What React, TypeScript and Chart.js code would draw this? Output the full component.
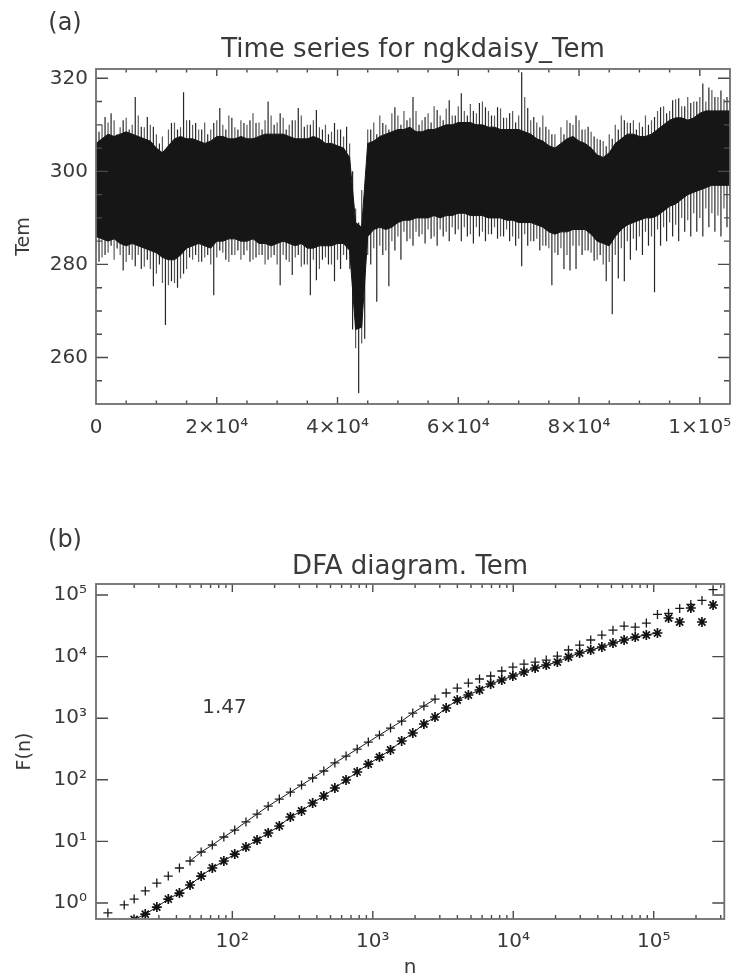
import React, { useEffect, useRef } from "react";
import { Chart, registerables } from "chart.js";

Chart.register(...registerables);

const FONT = '"DejaVu Sans", "Liberation Sans", sans-serif';
const INK = "#3a3a3a";
const FRAME = "#6e6e6e";
const TICK_INK = "#4a4a4a";
const SERIES_INK = "#161616";

// ---------------- Panel (a): time series ----------------
const TS_TITLE = "Time series for ngkdaisy_Tem";
const TS_Y_TITLE = "Tem";
const TS_BIN = 1000; // one reading column = 1000 samples
// solid black body of the series (upper / lower edge), one value per 1000 samples
const TS_CORE_TOP = [
  306, 307, 308, 307.5, 308, 308.5, 308, 307.5, 307, 306.5,
  305, 304, 305.5, 307, 307.5, 307, 307, 306.5, 306, 306.5,
  307.5, 307.5, 307, 307, 307.5, 307, 307, 307.5, 308, 308,
  308, 308, 307.5, 307, 307, 307, 307.5, 307, 306, 306,
  305.5, 305, 303, 289, 288, 306, 306.5, 307.5, 308, 308.5,
  309, 309, 309.5, 308.5, 308.5, 309, 309, 309.5, 310, 310,
  310.5, 310.5, 310.5, 310, 310, 309.5, 309.5, 309, 309, 309,
  309, 308.5, 308, 307, 306.5, 305.5, 305, 306, 307, 307.5,
  306.5, 306, 305, 303.5, 303, 304, 306, 307, 308, 308,
  307.5, 307.5, 308, 309, 310, 311, 311.5, 311.5, 311, 311.5,
  312.5, 313, 313, 313, 313, 313,
];
const TS_CORE_BOTTOM = [
  286, 285.5, 285, 285.5, 284.5, 284, 284.5, 284, 283.5, 283,
  282.5, 281.5, 281, 281, 282, 283.5, 284, 284.5, 284, 283.5,
  285, 285, 285.5, 285.5, 285, 285, 285.5, 284.5, 284.5, 284,
  284.5, 285, 284.5, 284, 284.5, 283.5, 283.5, 284, 284, 284,
  284.5, 284.5, 283, 266, 266.5, 286, 287.5, 288, 287.5, 288,
  289, 289.5, 289.5, 290, 290, 290, 290.5, 290, 290.5, 290.5,
  291, 291, 290.5, 290.5, 290.5, 290, 290, 290, 289.5, 289.5,
  289, 289, 289, 288.5, 288, 287, 286.5, 287, 287, 287.5,
  287.5, 287.5, 286.5, 285, 284.5, 284, 286, 287.5, 288.5, 289,
  289.5, 290, 290, 290.5, 291.5, 292.5, 293, 294, 295, 295.5,
  296, 296.5, 297, 297, 297, 297,
];
// largest excursions (spikes) in each 1000-sample column, at its middle
const TS_SPIKE_TOP = [
  308.5, 311.7, 312.5, 308, 311, 309, 316, 309.6, 311.7, 309.6,
  306, 304.7, 310.4, 309, 317, 311, 310.4, 309, 308, 310.4,
  313.6, 309, 311.5, 309, 310.4, 311, 310.4, 309, 315, 310,
  312.5, 309, 311, 313.6, 309.6, 310, 313.2, 309, 308, 310.4,
  309, 309.6, 300, 289, 295, 309, 308, 310.4, 309, 313.8,
  310, 311, 316, 310, 311.7, 310.5, 313.2, 311, 315.3, 312,
  316.8, 312, 313, 314.7, 313.8, 312, 313.8, 311.5, 312.5, 310.5,
  321.3, 313.6, 311.7, 309.5, 309.6, 308, 305.4, 308, 310.4, 312,
  309, 309.6, 307.5, 306.8, 305.4, 307, 309, 311, 310.4, 309,
  309.6, 310, 311.7, 313.8, 312.5, 315.3, 315.7, 314, 314.7, 315,
  318.9, 318, 316, 317.4, 316,
];
const TS_SPIKE_BOTTOM = [
  280.6, 282, 284, 283.4, 278.7, 282, 279.6, 279, 281, 275.3,
  280, 267, 276.4, 275, 278, 281.5, 282, 280.6, 282, 273.4,
  283, 281, 282, 283, 282, 280.6, 281.5, 282, 281, 282,
  275.5, 281, 277.7, 282, 280, 273.4, 276.6, 281, 280, 276.4,
  279, 281, 266, 252.3, 264, 280, 272, 282, 275.3, 283,
  281, 285, 284, 286, 284.5, 285.5, 284, 286, 285, 286.5,
  285, 286, 284.5, 286, 285, 286.5, 285.5, 286, 285, 284,
  279.6, 284, 285, 283, 284, 275.5, 282, 279, 278.7, 279,
  282, 283, 280.8, 282, 276.4, 269.3, 277, 276.4, 281, 283,
  282, 284, 274, 284, 285, 286, 285, 287, 286, 287,
  286, 288, 287, 286, 288,
];
// smaller excursions forming the ragged edge, at each column boundary
const TS_EDGE_TOP = [
  309, 310, 310.5, 311, 309.5, 311.5, 310, 312, 309.5, 310,
  308, 307.5, 309, 310.5, 309.5, 311, 310, 309, 310.5, 309,
  311, 310, 312, 309.5, 311, 310, 312.5, 310.5, 311, 312,
  310.5, 311.5, 310, 311, 312, 310, 311, 309.5, 310, 308.5,
  309, 307.5, 306, 292, 296, 309, 310.5, 312, 310, 312.5,
  312, 313, 311.5, 313, 311, 312.5, 314, 312, 313.5, 312,
  314, 313, 314.5, 312.5, 315, 313, 312, 313.5, 311.5, 313,
  312, 316, 311, 310.5, 312, 309, 308, 309.5, 311, 310,
  311, 309, 308.5, 307, 306.5, 308, 310, 312, 310.5, 311,
  310.5, 312, 311, 313, 314, 313, 315.5, 314, 316, 315,
  316, 315, 317.5, 316, 315.5, 316,
];
const TS_EDGE_BOTTOM = [
  283, 281.5, 282.5, 281, 282, 280.5, 281, 282, 279.5, 279,
  278, 276, 275.5, 276, 277, 279, 281, 280.5, 281.5, 280,
  281.5, 282.5, 280.5, 282, 281, 283, 281, 282, 280, 281.5,
  280, 282, 280.5, 281.5, 279.5, 280, 281, 279, 281.5, 280,
  281, 282, 279, 262, 263, 282, 283.5, 284, 283, 285,
  286, 287, 285.5, 287, 286.5, 287.5, 286, 287.5, 287, 288,
  287.5, 288, 286.5, 288, 287, 286.5, 288, 286, 287.5, 286,
  285.5, 286.5, 285, 285.5, 284, 283.5, 282.5, 283.5, 282, 284,
  284, 283, 282.5, 281, 280, 280.5, 282, 283.5, 285, 285.5,
  286, 287, 286, 287.5, 288, 289, 288.5, 290, 289.5, 291,
  290, 292, 291, 290.5, 292, 291,
];
const TS_X_MIN = 0;
const TS_X_MAX = 105000;
const TS_Y_MIN = 250;
const TS_Y_MAX = 322;
const TS_X_TICKS = [0, 20000, 40000, 60000, 80000, 100000];
const TS_X_LABELS = ["0", "2×10⁴", "4×10⁴", "6×10⁴", "8×10⁴", "1×10⁵"];
const TS_X_MINOR_STEP = 5000;
const TS_Y_TICKS = [260, 280, 300, 320];
const TS_Y_LABELS = ["260", "280", "300", "320"];
const TS_Y_MINOR_STEP = 5;

// ---------------- Panel (b): DFA diagram ----------------
const DFA_TITLE = "DFA diagram. Tem";
const DFA_X_TITLE = "n";
const DFA_Y_TITLE = "F(n)";
const DFA_N = [
  13, 17, 20, 24, 29, 35, 42, 50, 60, 72,
  87, 104, 125, 150, 180, 216, 259, 311, 373, 448,
  537, 645, 774, 929, 1115, 1337, 1605, 1926, 2311, 2773,
  3328, 3993, 4792, 5750, 6900, 8280, 9936, 11923, 14308, 17170,
  20604, 24724, 29669, 35603, 42724, 51268, 61522, 73826, 88591, 106310,
  127571, 153086, 183703, 220444, 264532,
];
const DFA_PLUS = [
  0.69, 0.93, 1.16, 1.57, 2.11, 2.74, 3.7, 4.81, 6.73, 8.74,
  11.8, 15.3, 20.7, 27.8, 37.3, 48.6, 63.1, 82.1, 107, 139,
  188, 243, 316, 410, 533, 692, 898, 1213, 1576, 2046,
  2566, 3090, 3722, 4330, 4842, 5840, 6770, 7580, 8170, 8800,
  10200, 12800, 15400, 18600, 22400, 26900, 31300, 30100, 35000, 48400,
  50400, 60700, 70500, 81700, 122000,
];
const DFA_STAR = [
  null, null, 0.54, 0.66, 0.86, 1.16, 1.45, 1.96, 2.74, 3.7,
  4.81, 6.24, 8.11, 10.5, 13.7, 17.8, 24.9, 31.2, 42.0, 54.6,
  73.6, 99.3, 134, 180, 234, 305, 427, 575, 805, 1046,
  1464, 1974, 2380, 2871, 3591, 4170, 4842, 5623, 6530, 7305,
  8172, 9856, 11440, 12800, 14320, 16630, 18600, 20800, 22430, 24170,
  42360, 36480, 61520, 36480, 68870,
];
const PLUS_LINE_FROM = 7;
const PLUS_LINE_TO = 29;
const STAR_LINE_TO = 49;
const DFA_X_MIN = 10.7;
const DFA_X_MAX = 318000;
const DFA_Y_MIN = 0.55;
const DFA_Y_MAX = 151000;
const DFA_X_TICKS = [100, 1000, 10000, 100000];
const DFA_X_LABELS = ["10²", "10³", "10⁴", "10⁵"];
const DFA_Y_TICKS = [1, 10, 100, 1000, 10000, 100000];
const DFA_Y_LABELS = ["10⁰", "10¹", "10²", "10³", "10⁴", "10⁵"];
const DFA_SLOPE_LABEL = "1.47";
const DFA_SLOPE_N = 88;
const DFA_SLOPE_F = 1460;

// ---------------- helpers ----------------
type TickSpec = { major: number[]; minor: number[]; majorLen: number; minorLen: number };
type TextItem = {
  text: string;
  x: number;
  y: number;
  size: number;
  align?: CanvasTextAlign;
  baseline?: CanvasTextBaseline;
  rotate?: number;
};

const rangeStep = (from: number, to: number, step: number) => {
  const out: number[] = [];
  for (let v = from; v <= to + 1e-9; v += step) out.push(v);
  return out;
};

const logMinors = (from: number, to: number) => {
  const out: number[] = [];
  for (let d = 1; d <= 1e6; d *= 10) {
    for (let m = 2; m <= 9; m++) {
      const v = m * d;
      if (v >= from && v <= to) out.push(v);
    }
  }
  return out;
};

const framePlugin = (id: string, xt: TickSpec, yt: TickSpec) => ({
  id,
  afterDatasetsDraw(chart: any) {
    const { ctx, chartArea: a } = chart;
    const sx = chart.scales.x;
    const sy = chart.scales.y;
    ctx.save();
    ctx.strokeStyle = TICK_INK;
    ctx.lineWidth = 1.4;
    ctx.beginPath();
    const xMark = (v: number, len: number) => {
      const p = sx.getPixelForValue(v);
      if (p <= a.left + 1.5 || p >= a.right - 1.5) return;
      ctx.moveTo(p, a.bottom);
      ctx.lineTo(p, a.bottom - len);
      ctx.moveTo(p, a.top);
      ctx.lineTo(p, a.top + len);
    };
    const yMark = (v: number, len: number) => {
      const p = sy.getPixelForValue(v);
      if (p <= a.top + 1.5 || p >= a.bottom - 1.5) return;
      ctx.moveTo(a.left, p);
      ctx.lineTo(a.left + len, p);
      ctx.moveTo(a.right, p);
      ctx.lineTo(a.right - len, p);
    };
    xt.major.forEach((v) => xMark(v, xt.majorLen));
    xt.minor.forEach((v) => xMark(v, xt.minorLen));
    yt.major.forEach((v) => yMark(v, yt.majorLen));
    yt.minor.forEach((v) => yMark(v, yt.minorLen));
    ctx.stroke();
    ctx.strokeStyle = FRAME;
    ctx.lineWidth = 1.8;
    ctx.strokeRect(a.left, a.top, a.right - a.left, a.bottom - a.top);
    ctx.restore();
  },
});

const textPlugin = (id: string, items: (chart: any) => TextItem[]) => ({
  id,
  afterDraw(chart: any) {
    const ctx = chart.ctx as CanvasRenderingContext2D;
    for (const t of items(chart)) {
      ctx.save();
      ctx.translate(t.x, t.y);
      if (t.rotate) ctx.rotate(t.rotate);
      ctx.font = `${t.size}px ${FONT}`;
      ctx.fillStyle = INK;
      ctx.textAlign = t.align ?? "center";
      ctx.textBaseline = t.baseline ?? "alphabetic";
      ctx.fillText(t.text, 0, 0);
      ctx.restore();
    }
  },
});

const tickFont = { family: FONT, size: 20 };

const fixBox = (w: number | null, h: number | null) => (s: any) => {
  if (w !== null) s.width = w;
  if (h !== null) s.height = h;
  s.paddingLeft = 0;
  s.paddingRight = 0;
  s.paddingTop = 0;
  s.paddingBottom = 0;
};

const verticalStrokes = (xs: number[], tops: number[], bottoms: number[]) => {
  const pts: { x: number; y: number | null }[] = [];
  xs.forEach((x, i) => {
    pts.push({ x, y: tops[i] }, { x, y: bottoms[i] }, { x, y: null });
  });
  return pts;
};

function buildTimeSeries(canvas: HTMLCanvasElement) {
  const spikeX = TS_SPIKE_TOP.map((_, i) => i * TS_BIN + TS_BIN / 2);
  const edgeX = TS_EDGE_TOP.map((_, i) => i * TS_BIN);
  const spikes = verticalStrokes(spikeX, TS_SPIKE_TOP, TS_SPIKE_BOTTOM);
  const edges = verticalStrokes(edgeX, TS_EDGE_TOP, TS_EDGE_BOTTOM);
  const coreTop = TS_CORE_TOP.map((y, i) => ({ x: i * TS_BIN, y }));
  const coreBottom = TS_CORE_BOTTOM.map((y, i) => ({ x: i * TS_BIN, y }));

  const xTicks: TickSpec = {
    major: TS_X_TICKS,
    minor: rangeStep(TS_X_MIN, TS_X_MAX, TS_X_MINOR_STEP).filter((v) => !TS_X_TICKS.includes(v)),
    majorLen: 7,
    minorLen: 3.5,
  };
  const yTicks: TickSpec = {
    major: TS_Y_TICKS,
    minor: rangeStep(TS_Y_MIN, TS_Y_MAX, TS_Y_MINOR_STEP).filter((v) => !TS_Y_TICKS.includes(v)),
    majorLen: 12,
    minorLen: 6,
  };

  return new Chart(canvas, {
    type: "line",
    data: {
      datasets: [
        {
          label: "Tem body (upper)",
          data: coreTop,
          borderColor: SERIES_INK,
          backgroundColor: SERIES_INK,
          borderWidth: 1,
          pointRadius: 0,
          fill: "+1",
          order: 1,
        },
        {
          label: "Tem body (lower)",
          data: coreBottom,
          borderColor: SERIES_INK,
          borderWidth: 1,
          pointRadius: 0,
          fill: false,
          order: 1,
        },
        {
          label: "Tem spikes",
          data: spikes,
          borderColor: "#262626",
          borderWidth: 1.2,
          pointRadius: 0,
          spanGaps: false,
          fill: false,
          order: 2,
        },
        {
          label: "Tem ragged edge",
          data: edges,
          borderColor: "#5a5a5a",
          borderWidth: 1.2,
          pointRadius: 0,
          spanGaps: false,
          fill: false,
          order: 3,
        },
      ],
    },
    options: {
      responsive: false,
      animation: false,
      events: [],
      layout: { padding: { top: 69, right: 1, bottom: 0, left: 0 } },
      plugins: { legend: { display: false }, tooltip: { enabled: false }, title: { display: false } },
      scales: {
        x: {
          type: "linear",
          min: TS_X_MIN,
          max: TS_X_MAX,
          afterBuildTicks: (s: any) => {
            s.ticks = TS_X_TICKS.map((v) => ({ value: v }));
          },
          afterFit: fixBox(null, 56),
          grid: { display: false, drawTicks: false },
          border: { display: false },
          ticks: {
            autoSkip: false,
            maxRotation: 0,
            minRotation: 0,
            padding: 12,
            color: INK,
            font: tickFont,
            callback: (_v: any, i: number) => TS_X_LABELS[i],
          },
        },
        y: {
          type: "linear",
          min: TS_Y_MIN,
          max: TS_Y_MAX,
          afterBuildTicks: (s: any) => {
            s.ticks = TS_Y_TICKS.map((v) => ({ value: v }));
          },
          afterFit: fixBox(96, null),
          grid: { display: false, drawTicks: false },
          border: { display: false },
          ticks: {
            autoSkip: false,
            padding: 8,
            color: INK,
            font: tickFont,
            callback: (_v: any, i: number) => TS_Y_LABELS[i],
          },
        },
      },
    },
    plugins: [
      framePlugin("frameA", xTicks, yTicks),
      textPlugin("textA", (chart) => {
        const a = chart.chartArea;
        return [
          { text: "(a)", x: 65, y: 30, size: 24 },
          { text: TS_TITLE, x: (a.left + a.right) / 2, y: 57, size: 26 },
          {
            text: TS_Y_TITLE,
            x: 24,
            y: (a.top + a.bottom) / 2,
            size: 19,
            baseline: "middle",
            rotate: -Math.PI / 2,
          },
        ];
      }),
    ],
  } as any);
}

function buildDfa(canvas: HTMLCanvasElement) {
  const plus = DFA_N.map((n, i) => ({ x: n, y: DFA_PLUS[i] }));
  const star = DFA_N.map((n, i) => ({ x: n, y: DFA_STAR[i] }));
  const xTicks: TickSpec = {
    major: DFA_X_TICKS,
    minor: logMinors(DFA_X_MIN, DFA_X_MAX),
    majorLen: 8,
    minorLen: 4,
  };
  const yTicks: TickSpec = { major: DFA_Y_TICKS, minor: [], majorLen: 12, minorLen: 0 };
  const hidden = "rgba(0,0,0,0)";

  return new Chart(canvas, {
    type: "line",
    data: {
      datasets: [
        {
          label: "F(n) +",
          data: plus,
          showLine: true,
          borderColor: "#1a1a1a",
          borderWidth: 1,
          pointStyle: "cross",
          pointRadius: 4.5,
          pointBorderWidth: 1.3,
          pointBorderColor: "#1a1a1a",
          segment: {
            borderColor: (c: any) =>
              c.p0DataIndex >= PLUS_LINE_FROM && c.p1DataIndex <= PLUS_LINE_TO ? "#1a1a1a" : hidden,
          },
          fill: false,
        },
        {
          label: "F(n) *",
          data: star,
          showLine: true,
          borderColor: "#111",
          borderWidth: 1,
          pointStyle: "star",
          pointRadius: 5,
          pointBorderWidth: 1.7,
          pointBorderColor: "#111",
          segment: {
            borderColor: (c: any) => (c.p1DataIndex <= STAR_LINE_TO ? "#111" : hidden),
          },
          spanGaps: false,
          fill: false,
        },
      ],
    },
    options: {
      responsive: false,
      animation: false,
      events: [],
      layout: { padding: { top: 124, right: 3, bottom: 0, left: 0 } },
      plugins: { legend: { display: false }, tooltip: { enabled: false }, title: { display: false } },
      scales: {
        x: {
          type: "logarithmic",
          min: DFA_X_MIN,
          max: DFA_X_MAX,
          afterBuildTicks: (s: any) => {
            s.ticks = DFA_X_TICKS.map((v) => ({ value: v }));
          },
          afterFit: fixBox(null, 61),
          grid: { display: false, drawTicks: false },
          border: { display: false },
          ticks: {
            autoSkip: false,
            maxRotation: 0,
            minRotation: 0,
            padding: 11,
            color: INK,
            font: tickFont,
            callback: (_v: any, i: number) => DFA_X_LABELS[i],
          },
        },
        y: {
          type: "logarithmic",
          min: DFA_Y_MIN,
          max: DFA_Y_MAX,
          afterBuildTicks: (s: any) => {
            s.ticks = DFA_Y_TICKS.map((v) => ({ value: v }));
          },
          afterFit: fixBox(96, null),
          grid: { display: false, drawTicks: false },
          border: { display: false },
          ticks: {
            autoSkip: false,
            padding: 9,
            color: INK,
            font: tickFont,
            callback: (_v: any, i: number) => DFA_Y_LABELS[i],
          },
        },
      },
    },
    plugins: [
      framePlugin("frameB", xTicks, yTicks),
      textPlugin("textB", (chart) => {
        const a = chart.chartArea;
        const sx = chart.scales.x;
        const sy = chart.scales.y;
        return [
          { text: "(b)", x: 65, y: 87, size: 24 },
          { text: DFA_TITLE, x: (a.left + a.right) / 2, y: 114, size: 26 },
          {
            text: DFA_Y_TITLE,
            x: 25,
            y: (a.top + a.bottom) / 2,
            size: 19,
            baseline: "middle",
            rotate: -Math.PI / 2,
          },
          { text: DFA_X_TITLE, x: (a.left + a.right) / 2, y: 513, size: 20 },
          {
            text: DFA_SLOPE_LABEL,
            x: sx.getPixelForValue(DFA_SLOPE_N),
            y: sy.getPixelForValue(DFA_SLOPE_F),
            size: 20,
            baseline: "middle",
          },
        ];
      }),
    ],
  } as any);
}

export default function App() {
  const refA = useRef<HTMLCanvasElement>(null);
  const refB = useRef<HTMLCanvasElement>(null);

  useEffect(() => {
    const a = buildTimeSeries(refA.current!);
    const b = buildDfa(refB.current!);
    return () => {
      a.destroy();
      b.destroy();
    };
  }, []);

  return (
    <div style={{ position: "absolute", left: 0, top: 0, width: 731, height: 980, background: "#fff" }}>
      <canvas
        ref={refA}
        width={731}
        height={460}
        style={{ position: "absolute", left: 0, top: 0, width: 731, height: 460 }}
      />
      <canvas
        ref={refB}
        width={731}
        height={520}
        style={{ position: "absolute", left: 0, top: 460, width: 731, height: 520 }}
      />
    </div>
  );
}
